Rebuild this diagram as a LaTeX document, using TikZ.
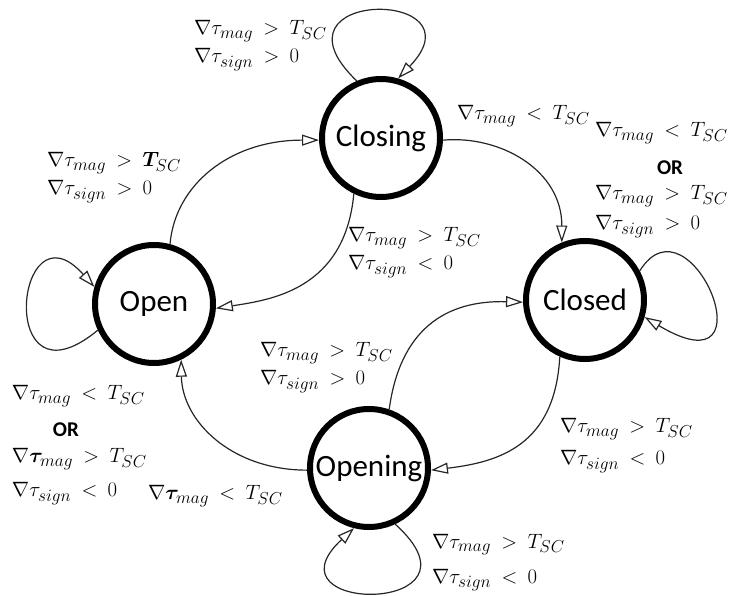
\documentclass[tikz,border=0pt]{standalone}
\usepackage{fontspec}
\usepackage{bm}
\setsansfont{Carlito}
\usetikzlibrary{arrows.meta}
\DeclareMathSizes{21}{21}{17}{12}
\newcommand\gmag{\nabla\tau_{mag}}
\newcommand\gsign{\nabla\tau_{sign}}
\newcommand\gbmag{\nabla\bm{\tau}_{mag}}
\newcommand\orword{\textsf{\bfseries OR}}
\newcommand\condfont{\fontsize{21}{24}\selectfont\thickmuskip=9mu plus 3mu\relax}
\tikzset{
  state/.style={circle, draw, line width=6pt, minimum size=118pt, inner sep=0pt,
    font=\sffamily\fontsize{31}{31}\selectfont},
  cond/.style={anchor=base west, inner sep=0pt, outer sep=0pt, font=\condfont},
  trans/.style={line width=1.2pt, draw=black!85,
    -{Triangle[open, length=17pt, width=11pt, fill=white]}},
}
\begin{document}
\begin{tikzpicture}[x=1pt, y=-1pt]
  \useasboundingbox (0,0) rectangle (732,596);

  % states
  \node[state] (closing) at (381,138) {Closing};
  \node[state] (open)    at (154,304) {Open};
  \node[state] (closed)  at (585,300) {Closed};
  \node[state] (opening) at (369,468) {Opening};

  % transitions between states
  \draw[trans] (open.75) .. controls (175,185) and (230,140) .. (closing.182);
  \draw[trans] (closing.244) .. controls (345,290) and (270,300) .. (open.356);
  \draw[trans] (closing.358) .. controls (500,135) and (562,170) .. (closed.112);
  \draw[trans] (closed.246) .. controls (555,445) and (500,462) .. (opening.358);
  \draw[trans] (opening.71) .. controls (400,330) and (445,300) .. (closed.182);
  \draw[trans] (opening.182) .. controls (230,470) and (182,420) .. (open.296);

  % self loops
  \draw[trans] (closing.113) .. controls (260,-12) and (485,-12) .. (closing.74);
  \draw[trans] (closed.28) .. controls (690,190) and (775,395) .. (closed.344);
  \draw[trans] (open.205) .. controls (-5,415) and (15,198) .. (open.164);
  \draw[trans] (opening.295) .. controls (496,615) and (260,615) .. (opening.256);

  % transition conditions
  \node[cond] (c-closing) at (194,35) {\begin{tabular}[t]{@{}l@{}}
    $\gmag > T_{SC}$\\[4pt] $\gsign > 0$\end{tabular}};
  \node[cond] (c-opencl) at (47,167) {\begin{tabular}[t]{@{}l@{}}
    $\gmag > \bm{T}_{SC}$\\[4pt] $\gsign > 0$\end{tabular}};
  \node[cond] (c-clcd) at (457,120) {$\gmag < T_{SC}$};
  \node[cond] (c-closed) at (595,137) {\begin{tabular}[t]{@{}l@{}}
    $\gmag < T_{SC}$\\[14pt] \hspace*{62pt}\orword\\[1pt]
    $\gmag > T_{SC}$\\[6pt] $\gsign > 0$\end{tabular}};
  \node[cond] (c-clop) at (348,242) {\begin{tabular}[t]{@{}l@{}}
    $\gmag > T_{SC}$\\[4pt] $\gsign < 0$\end{tabular}};
  \node[cond] (c-ogcd) at (260,357) {\begin{tabular}[t]{@{}l@{}}
    $\gmag > T_{SC}$\\[4pt] $\gsign > 0$\end{tabular}};
  \node[cond] (c-open) at (12,400) {\begin{tabular}[t]{@{}l@{}}
    $\gmag < T_{SC}$\\[13pt] \hspace*{41pt}\orword\\[2pt]
    $\gbmag > T_{SC}$\\[10pt] $\gsign < 0$\end{tabular}};
  \node[cond] (c-ogop) at (148,500) {$\gbmag < T_{SC}$};
  \node[cond] (c-cdog) at (560,433) {\begin{tabular}[t]{@{}l@{}}
    $\gmag > T_{SC}$\\[8pt] $\gsign < 0$\end{tabular}};
  \node[cond] (c-opening) at (432,548) {\begin{tabular}[t]{@{}l@{}}
    $\gmag > T_{SC}$\\[11pt] $\gsign < 0$\end{tabular}};
\end{tikzpicture}
\end{document}
